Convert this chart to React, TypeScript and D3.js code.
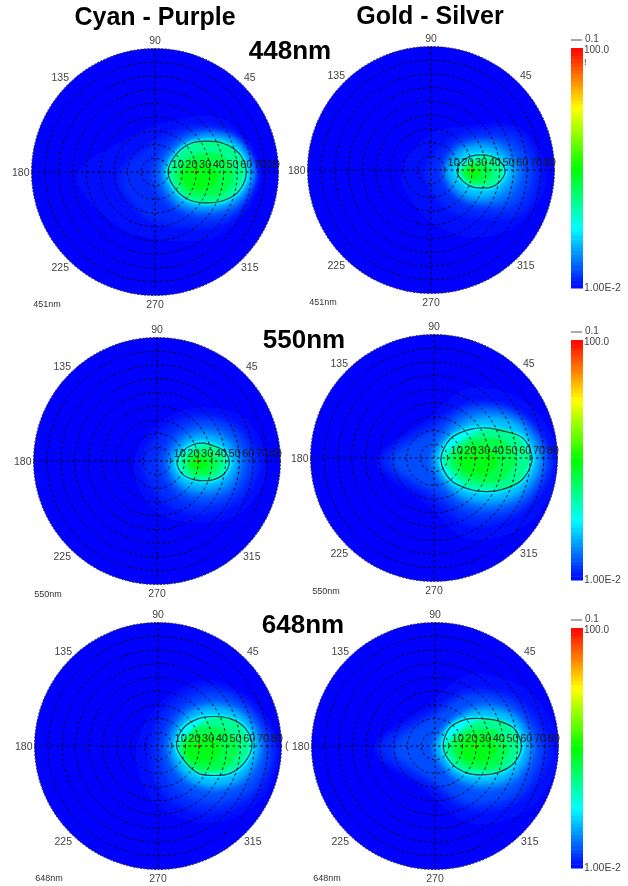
import * as d3 from "d3";

const width = 628;
const height = 886;

// intensity of each filled level, lowest first
const levelValues = [0.0112, 0.0145, 0.02, 0.033, 0.06, 0.27, 0.5, 0.85];
// radial ticks and angle labels
const ringTicks = [10, 20, 30, 40, 50, 60, 70, 80];
const angleTicks = [45, 90, 135, 180, 225, 270, 315];
// value of the single drawn contour
const contourValue = 0.1;
// position of the bright mark near the top of each lobe: theta, polar angle
const peakPoint = [0, 30];

// each level: lobe centre x, y (degrees), then radii going round at equal angle steps
const cyan448Levels = [
  [10, -3, 65, 58, 40, 40, 67, 52, 47, 58],
  [20, -3, 52, 46, 34, 32, 45, 40, 36, 46],
  [32, -2, 41, 37, 32, 31, 34, 31, 31, 38],
  [37, -1, 36, 33, 29, 29, 33, 31, 28, 31],
  [38, 0, 33, 30, 26, 26, 31, 29, 26, 29],
  [38, 0, 28, 26, 23, 24, 28, 25, 23, 25],
  [37, -2, 21, 19, 16, 18, 22, 19, 16, 19],
  [33, -3, 13, 12, 10, 12, 14, 12, 10, 12],
];
const cyan448Contour = [38, 0, 28.5, 27, 24, 22.5, 24, 26, 28.5, 26, 24, 22.5, 24, 27];

const gold448Levels = [
  [30, -3, 55, 48, 35, 42, 52, 46, 46, 50],
  [38, -2, 40, 38, 31, 33, 41, 36, 32, 40],
  [38, -2, 35, 31, 24, 24, 30, 25, 24, 32],
  [36, -1, 29, 25, 22, 24, 26, 24, 23, 27],
  [36, -1, 24, 20, 18, 20, 24, 20, 19, 20],
  [36.5, -1, 16, 14, 11, 11, 16, 13, 11, 14],
  [34, -2, 11, 9, 8, 9, 11, 9, 8, 9],
  [31, -2, 6, 5, 5, 5, 6, 5, 5, 5],
];
const gold448Contour = [36.5, -1, 17.5, 15.5, 13, 12, 13, 15.5, 17.5, 15, 13, 12, 13.5, 15.5];

const cyan550Levels = [
  [30, -3, 50, 48, 42, 42, 47, 46, 42, 47],
  [32, -2, 42, 38, 35, 36, 42, 38, 36, 38],
  [35, -1, 33, 31, 30, 30, 33, 31, 30, 31],
  [35, -1, 27, 25, 24, 25, 27, 26, 24, 26],
  [34, -1, 24, 21, 19, 20, 24, 22, 19, 21],
  [34, -1, 17, 15, 13, 13, 18, 15, 12.5, 15],
  [33, -2, 12, 10, 9, 10, 12, 10, 9, 10],
  [31, -2, 7, 6, 5, 6, 7, 6, 5, 6],
];
const cyan550Contour = [34, -1, 18.7, 17, 14, 14, 15, 17, 19.4, 17.5, 14.5, 13.4, 14.5, 17];

const gold550Levels = [
  [26, -3, 66, 60, 54, 44, 68, 44, 56, 62],
  [26, -2, 60, 50, 40, 38, 63, 38, 46, 52],
  [28, -2, 55, 47, 40, 34, 58, 34, 38, 48],
  [38, -1, 42, 38, 35, 35, 40, 35, 35, 38],
  [38, -1, 38, 34, 30, 30, 37, 32, 30, 34],
  [38, -1, 32, 28, 22, 22, 31, 25, 22, 28],
  [36, -2, 24, 21, 17, 18, 24, 18, 16, 20],
  [32, -2, 15, 13, 11, 12, 15, 12, 10, 13],
];
const gold550Contour = [38, -1, 33.5, 31, 24, 23, 25, 30, 33, 30, 25, 23.5, 25, 30];

const cyan648Levels = [
  [34, -4, 54, 50, 52, 48, 50, 52, 52, 54],
  [38, -3, 47, 44, 46, 44, 43, 46, 45, 46],
  [41, -2, 40, 38, 40, 38, 39, 40, 39, 40],
  [41, -1, 35, 33, 32, 33, 34, 32, 31, 33],
  [41, 0, 32, 30, 28, 29, 31, 30, 29, 30],
  [41, 0, 26, 24, 21, 20, 26, 24, 20, 23],
  [38, -2, 21, 18, 16, 18, 21, 18, 16, 18],
  [33, -2, 13, 12, 10, 12, 14, 12, 10, 12],
];
const cyan648Contour = [41, 0, 27.5, 26, 23, 21.5, 23, 26, 27.5, 24, 23, 21.5, 23, 25];

const gold648Levels = [
  [25, -2, 66, 60, 54, 44, 68, 44, 54, 62],
  [25, -2, 58, 50, 42, 38, 66, 38, 44, 52],
  [25, -2, 52, 45, 38, 34, 55, 34, 38, 47],
  [36, -1, 36, 33, 31, 30, 37, 31, 30, 33],
  [35, 0, 33, 30, 26, 27, 34, 29, 27, 30],
  [34, -0.5, 28, 25, 20, 19, 27, 23, 19, 24],
  [33, -2, 21, 18, 15, 17, 21, 17, 15, 18],
  [31, -2, 14, 12, 10, 12, 14, 12, 10, 12],
];
const gold648Contour = [34, -0.5, 29, 27, 22, 20.5, 23, 27, 28, 25, 22, 20.5, 22, 26];

const panels = [
  { id: "c448", cx: 155, cy: 172, levels: cyan448Levels, contour: cyan448Contour, tag: "451nm", tagX: 47, tagY: 304 },
  { id: "g448", cx: 431, cy: 170, levels: gold448Levels, contour: gold448Contour, tag: "451nm", tagX: 323, tagY: 302 },
  { id: "c550", cx: 157, cy: 461, levels: cyan550Levels, contour: cyan550Contour, tag: "550nm", tagX: 48, tagY: 594 },
  { id: "g550", cx: 434, cy: 458, levels: gold550Levels, contour: gold550Contour, tag: "550nm", tagX: 326, tagY: 591 },
  { id: "c648", cx: 158, cy: 746, levels: cyan648Levels, contour: cyan648Contour, tag: "648nm", tagX: 49, tagY: 878 },
  { id: "g648", cx: 435, cy: 746, levels: gold648Levels, contour: gold648Contour, tag: "648nm", tagX: 327, tagY: 878 },
];

const titles = [
  { text: "Cyan - Purple", x: 155, y: 25, size: 25 },
  { text: "Gold - Silver", x: 430, y: 24, size: 25 },
  { text: "448nm", x: 290, y: 59, size: 26 },
  { text: "550nm", x: 304, y: 348, size: 26 },
  { text: "648nm", x: 303, y: 633, size: 26 },
];

const barTops = [48, 340, 628];
const barHeight = 240;
const barX = 571;
const barW = 12;

// polar angle (0..90) to pixels
const rScale = d3.scaleLinear().domain([0, 90]).range([0, 123.5]);

// log colour scale, same one the colour bar shows
const logPos = d3.scaleLog().domain([0.01, 100]).range([0, 1]);
const jet = d3
  .scaleLinear<string>()
  .domain([0, 0.25, 0.5, 0.75, 1])
  .range(["#0000ff", "#00ffff", "#00ff00", "#ffff00", "#ff0000"]);
const colorOf = (v: number) => jet(logPos(v));

// turns [cx, cy, r0, r1, ...] into a closed path around the lobe centre
function lobePath(row: number[]) {
  const radii = row.slice(2);
  const line = d3
    .lineRadial<number>()
    .angle((_, i) => Math.PI / 2 - (i * 2 * Math.PI) / radii.length)
    .radius((d) => rScale(d))
    .curve(d3.curveCatmullRomClosed.alpha(0.5));
  return line(radii) as string;
}

function Polar({ p }: { p: (typeof panels)[number] }) {
  const R = rScale(90);
  const mapped = (row: number[]) => `translate(${rScale(row[0])},${-rScale(row[1])})`;
  return (
    <g transform={`translate(${p.cx},${p.cy})`}>
      <clipPath id={`clip-${p.id}`}>
        <circle r={R} />
      </clipPath>
      <circle r={R} fill="#0000ff" />
      <g clipPath={`url(#clip-${p.id})`}>
        <g filter="url(#soft)">
          {p.levels.slice(0, 5).map((row, i) => (
            <path key={i} d={lobePath(row)} transform={mapped(row)} fill={colorOf(levelValues[i])} />
          ))}
        </g>
        <g filter="url(#softer)">
          <path d={lobePath(p.contour)} transform={mapped(p.contour)} fill={colorOf(contourValue)} stroke={colorOf(contourValue)} strokeWidth={4} />
          {p.levels.slice(5).map((row, i) => (
            <path key={i} d={lobePath(row)} transform={mapped(row)} fill={colorOf(levelValues[i + 5])} />
          ))}
        </g>
      </g>
      <path d={lobePath(p.contour)} transform={mapped(p.contour)} fill="none" stroke="#0b3f3a" strokeWidth={1.2} />
      {ringTicks.map((t) => (
        <circle key={t} r={rScale(t)} fill="none" stroke="#000" strokeWidth={1} strokeDasharray="2.5 3" />
      ))}
      <circle r={R} fill="none" stroke="#333" strokeWidth={1} strokeDasharray="2 1.5" />
      <line x1={-R} x2={R} stroke="#000" strokeWidth={1} strokeDasharray="2.5 3" />
      <line y1={-R} y2={R} stroke="#000" strokeWidth={1} strokeDasharray="2.5 3" />
      <circle cx={rScale(peakPoint[1])} cy={0} r={1.2} fill={colorOf(100)} />
      {ringTicks.map((t) => (
        <text key={t} x={rScale(t) + 9} y={-8} textAnchor="middle" dominantBaseline="central" fontSize={11} fill="#1c1c1c">
          {t}
        </text>
      ))}
      {angleTicks.map((a) => {
        const th = (a * Math.PI) / 180;
        const offset = a % 90 === 0 ? 132 : 134;
        const x = a === 180 ? -R - 2 : Math.cos(th) * offset;
        const y = -Math.sin(th) * offset;
        return (
          <text key={a} x={x} y={y} textAnchor={a === 180 ? "end" : "middle"} dominantBaseline="central" fontSize={10.5} fill="#444">
            {a}
          </text>
        );
      })}
      <text x={p.tagX - p.cx} y={p.tagY - p.cy} textAnchor="middle" dominantBaseline="central" fontSize={9} fill="#333">
        {p.tag}
      </text>
    </g>
  );
}

function ColorBar({ top }: { top: number }) {
  const steps = d3.range(0, 64);
  const yPos = d3.scaleLinear().domain([0, 64]).range([top + barHeight, top]);
  return (
    <g>
      {steps.map((s) => (
        <rect key={s} x={barX} y={yPos(s + 1)} width={barW} height={yPos(s) - yPos(s + 1) + 0.5} fill={jet((s + 0.5) / 64)} />
      ))}
      <line x1={barX} x2={barX + 11} y1={top - 8} y2={top - 8} stroke="#555" strokeWidth={1} />
      <text x={barX + 14} y={top - 10} dominantBaseline="central" fontSize={10} fill="#444">0.1</text>
      <text x={barX + 13} y={top + 1} dominantBaseline="central" fontSize={10} fill="#444">100.0</text>
      <text x={barX + 13} y={top + 239} dominantBaseline="central" fontSize={10.5} fill="#444">1.00E-2</text>
    </g>
  );
}

export default function App() {
  return (
    <svg
      width={width}
      height={height}
      viewBox={`0 0 ${width} ${height}`}
      style={{ position: "absolute", left: 0, top: 0, background: "#fff", fontFamily: "'Liberation Sans', Arial, sans-serif" }}
    >
      <defs>
        <filter id="soft" x="-30%" y="-30%" width="160%" height="160%">
          <feGaussianBlur stdDeviation="3" />
        </filter>
        <filter id="softer" x="-30%" y="-30%" width="160%" height="160%">
          <feGaussianBlur stdDeviation="1.3" />
        </filter>
        <filter id="scan" x="-5%" y="-5%" width="110%" height="110%">
          <feGaussianBlur stdDeviation="0.45" />
        </filter>
      </defs>
      <g filter="url(#scan)">
        {panels.map((p) => (
          <Polar key={p.id} p={p} />
        ))}
        {barTops.map((t) => (
          <ColorBar key={t} top={t} />
        ))}
        <text x={barX + 13} y={62} dominantBaseline="central" fontSize={9} fill="#444">!</text>
        <text x={285} y={745} dominantBaseline="central" fontSize={10.5} fill="#444">(</text>
      </g>
      {titles.map((t) => (
        <text key={t.text} x={t.x} y={t.y} textAnchor="middle" fontSize={t.size} fontWeight="bold" fill="#000">
          {t.text}
        </text>
      ))}
    </svg>
  );
}
